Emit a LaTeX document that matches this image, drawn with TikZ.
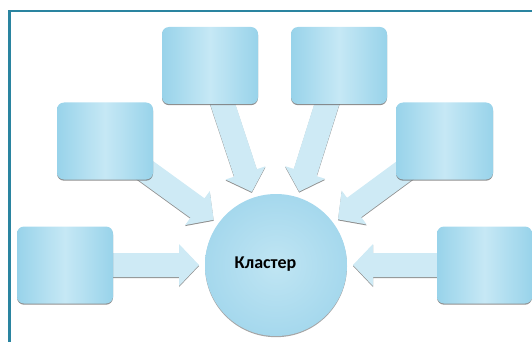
\documentclass[tikz,border=0pt]{standalone}
\usepackage{fontspec}
\setmainfont{Carlito}
\usetikzlibrary{calc,shadows,backgrounds}

\definecolor{frameteal}{RGB}{42,132,160}
\definecolor{boxedge}{RGB}{152,211,234}
\definecolor{boxmid}{RGB}{198,232,245}
\definecolor{hubmid}{RGB}{192,229,243}
\definecolor{hubedge}{RGB}{165,216,237}
\definecolor{arrowfill}{RGB}{206,234,245}

% block arrow from a box to the hub, tip kept off the circle
\newcommand{\fatarrow}[2]{%
  \coordinate (tip) at ($(#2.center)!77pt!(#1.center)$);
  \coordinate (bas) at ($(#2.center)!97pt!(#1.center)$);
  \fill[arrowbody]
    ($(#1.center)!12pt!90:(#2.center)$) -- ($(bas)!12pt!90:(#2.center)$)
    -- ($(bas)!21pt!90:(#2.center)$) -- (tip)
    -- ($(bas)!21pt!-90:(#2.center)$) -- ($(bas)!12pt!-90:(#2.center)$)
    -- ($(#1.center)!12pt!-90:(#2.center)$) -- cycle;
}

\begin{document}
\begin{tikzpicture}[x=1pt, y=-1pt,
    panel/.style={rounded corners=7pt, minimum width=96pt, minimum height=77pt,
      left color=boxedge, right color=boxedge, middle color=boxmid,
      drop shadow={shadow xshift=0pt, shadow yshift=-1.2pt, fill=black!55, opacity=.8}},
    hub/.style={circle, minimum size=142pt, inner color=hubmid, outer color=hubedge,
      drop shadow={shadow xshift=0pt, shadow yshift=-1.2pt, fill=black!50, opacity=.7}},
    arrowbody/.style={fill=arrowfill,
      drop shadow={shadow xshift=0pt, shadow yshift=-1pt, fill=black!55, opacity=.8}}]
  \useasboundingbox (0,0) rectangle (532,342);

  % frame
  \draw[frameteal, line width=2.5pt] (9.3,342) -- (9.3,11) -- (532,11);

  \node[panel] (box1) at (210,65.5) {};
  \node[panel] (box2) at (339,65.5) {};
  \node[panel] (box3) at (105,141) {};
  \node[panel, minimum width=97pt] (box4) at (444.5,141) {};
  \node[panel] (box5) at (65,265) {};
  \node[panel, minimum width=95pt] (box6) at (484.5,265) {};

  \node[hub] (hub) at (276,265) {};
  \node[anchor=base, font=\bfseries\fontsize{18}{20}\selectfont] (hubname) at (265.5,268) {Кластер};

  \begin{scope}[on background layer]
    \foreach \i in {1,...,6}
      {
        \fatarrow{box\i}{hub}
      }
  \end{scope}
\end{tikzpicture}
\end{document}
